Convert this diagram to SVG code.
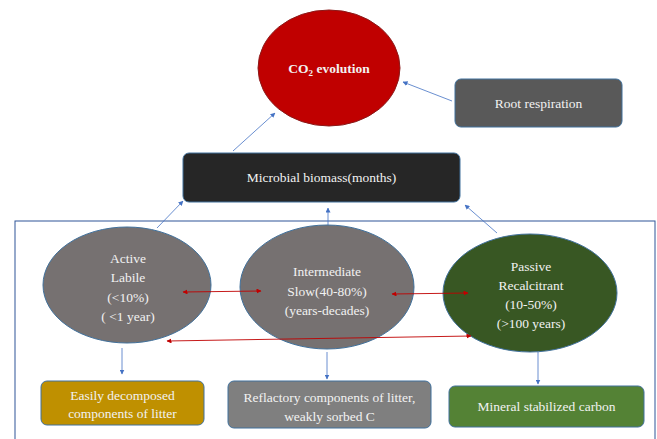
<svg xmlns="http://www.w3.org/2000/svg" width="657" height="439" viewBox="0 0 657 439">
<defs>
<marker id="ab" viewBox="0 0 10 10" refX="9" refY="5" markerWidth="5" markerHeight="5" orient="auto-start-reverse" markerUnits="userSpaceOnUse"><path d="M0,0 L10,5 L0,10 z" fill="#4472C4"/></marker>
<marker id="ar" viewBox="0 0 10 10" refX="9" refY="5" markerWidth="5" markerHeight="5" orient="auto-start-reverse" markerUnits="userSpaceOnUse"><path d="M0,0 L10,5 L0,10 z" fill="#C00000"/></marker>
<style>
text{font-family:"Liberation Serif","Times New Roman",serif;font-size:13.5px;text-anchor:middle;fill:#F2F2F2}
.s{stroke:#41719C;stroke-width:1}
.b{stroke:#4472C4;stroke-width:0.8;fill:none;marker-end:url(#ab)}
.r{stroke:#C00000;stroke-width:0.9;fill:none;marker-start:url(#ar);marker-end:url(#ar)}
</style>
</defs>
<rect width="657" height="439" fill="#FFFFFF"/>
<rect x="15" y="221" width="640" height="230" fill="none" stroke="#2F5597" stroke-width="1"/>
<g id="connectors">
<line class="b" x1="233" y1="151" x2="275" y2="113"/>
<line class="b" x1="452" y1="101" x2="403" y2="82"/>
<line class="b" x1="157" y1="228" x2="183" y2="201"/>
<line class="b" x1="328" y1="226" x2="328" y2="208"/>
<line class="b" x1="497" y1="233" x2="465" y2="205"/>
<line class="b" x1="122" y1="348" x2="122" y2="374"/>
<line class="b" x1="327" y1="352" x2="327" y2="379"/>
<line class="b" x1="538" y1="352" x2="538" y2="384"/>
</g>
<g id="co2"><ellipse cx="329" cy="68" rx="71" ry="58" fill="#C00000" stroke="#8B1A1A"/><text x="329" y="73" font-weight="bold" fill="#FFFFFF">CO<tspan font-size="9" dy="3">2</tspan><tspan dy="-3"> evolution</tspan></text></g>
<g id="root"><rect x="455" y="79" width="167" height="48" rx="6" fill="#595959" class="s"/><text x="538.5" y="108">Root respiration</text></g>
<g id="microbial"><rect x="183" y="153" width="277" height="49" rx="6" fill="#262626" class="s"/><text x="321.5" y="182">Microbial biomass(months)</text></g>
<g id="active"><ellipse cx="127" cy="285" rx="84" ry="58" fill="#767171" class="s"/><text x="128" y="263">Active</text><text x="128" y="282">Labile</text><text x="128" y="302">(&lt;10%)</text><text x="128" y="321">( &lt;1 year)</text></g>
<g id="intermediate"><ellipse cx="327" cy="287" rx="87" ry="62" fill="#767171" class="s"/><text x="327" y="276">Intermediate</text><text x="327" y="296">Slow(40-80%)</text><text x="327" y="315">(years-decades)</text></g>
<g id="passive"><ellipse cx="530" cy="293" rx="87" ry="59" fill="#385723" class="s"/><text x="531" y="271" fill="#E2F0D9">Passive</text><text x="531" y="290" fill="#E2F0D9">Recalcitrant</text><text x="531" y="309" fill="#E2F0D9">(10-50%)</text><text x="531" y="328" fill="#E2F0D9">(&gt;100 years)</text></g>
<g id="red-arrows">
<line class="r" x1="183" y1="292" x2="261" y2="291"/>
<line class="r" x1="392" y1="294" x2="468" y2="293"/>
<line class="r" x1="167" y1="341" x2="471" y2="336"/>
</g>
<g id="easily"><rect x="41" y="381" width="163" height="44" rx="6" fill="#BF9000" class="s"/><text x="122.5" y="400" fill="#FFF2CC">Easily decomposed</text><text x="122.5" y="418" fill="#FFF2CC">components of litter</text></g>
<g id="reflactory"><rect x="228" y="381" width="203" height="47" rx="6" fill="#7F7F7F" class="s"/><text x="329.5" y="402">Reflactory components of litter,</text><text x="329.5" y="421">weakly sorbed C</text></g>
<g id="mineral"><rect x="449" y="386" width="195" height="41" rx="6" fill="#548235" class="s"/><text x="546.5" y="411">Mineral stabilized carbon</text></g>
</svg>
